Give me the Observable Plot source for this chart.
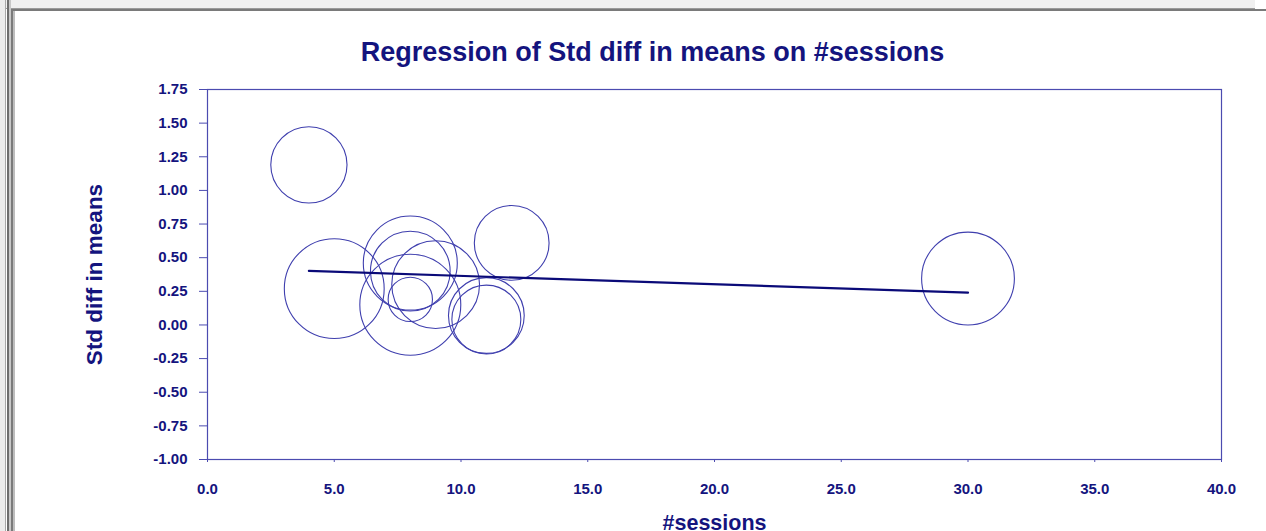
<!DOCTYPE html>
<html>
<head>
<meta charset="utf-8">
<script src="https://cdn.jsdelivr.net/npm/d3@7"></script>
<script src="https://cdn.jsdelivr.net/npm/@observablehq/plot@0.6"></script>
<style>
  html, body { margin: 0; padding: 0; background: #ffffff; }
  #wrap { position: relative; width: 1266px; height: 531px; overflow: hidden; background: #fff; }
  #chart { position: absolute; left: 0; top: 0; }
  .chrome { position: absolute; }
</style>
</head>
<body>
<div id="wrap">
  <div id="chart"></div>
  <!-- window frame around the chart panel -->
  <div class="chrome" style="left:0;top:0;width:1255px;height:8px;background:#f0f0f0;border-bottom:1px solid #9a9a9a;"></div>
  <div class="chrome" style="left:0;top:0;width:5px;height:531px;background:#ececec;"></div>
  <div class="chrome" style="left:5px;top:0;width:1px;height:531px;background:#a8a8a8;"></div>
  <div class="chrome" style="left:7px;top:0;width:2px;height:531px;background:#6e6e6e;"></div>
  <div class="chrome" style="left:9px;top:0;width:2px;height:531px;background:#c8c8c8;"></div>
  <div class="chrome" style="left:11px;top:9px;width:2px;height:522px;background:#7a7a7a;"></div>
  <div class="chrome" style="left:13px;top:9px;width:2px;height:522px;background:#bdbdbd;"></div>
  <div class="chrome" style="left:11px;top:9px;width:1255px;height:2px;background:#7a7a7a;"></div>
</div>
<script>
// Studies: number of sessions, standardized mean difference, relative weight (%)
const sessions = [4, 5, 8, 8, 8, 8, 9, 11, 11, 12, 30];
const stdDiff  = [1.19, 0.27, 0.15, 0.46, 0.40, 0.19, 0.30, 0.07, 0.04, 0.61, 0.345];
const weightPct = [7.7, 13.2, 13.5, 11.7, 8.4, 2.6, 10.2, 7.6, 6.3, 7.4, 11.4];

// Meta-regression fit: Std diff in means = intercept + slope * #sessions
const intercept = 0.427;
const slope = -0.00623;

const xTicks = [0, 5, 10, 15, 20, 25, 30, 35, 40];
const yTicks = [-1.00, -0.75, -0.50, -0.25, 0.00, 0.25, 0.50, 0.75, 1.00, 1.25, 1.50, 1.75];

const titleText = "Regression of Std diff in means on #sessions";
const xLabel = "#sessions";
const yLabel = "Std diff in means";

const studies = sessions.map((s, i) => ({sessions: s, diff: stdDiff[i], weight: weightPct[i]}));
const xMin = d3.min(sessions), xMax = d3.max(sessions);
const fit = [xMin, xMax].map(s => ({sessions: s, diff: intercept + slope * s}));

const navy = "#14147e";
const axisBlue = "#4b4bb0";
const circleBlue = "#3f3fae";
const font = "'Liberation Sans', Arial, Helvetica, sans-serif";

const chart = Plot.plot({
  width: 1266,
  height: 531,
  marginLeft: 207,
  marginRight: 45,
  marginTop: 89,
  marginBottom: 72,
  style: {fontFamily: font, fontWeight: "bold", background: "transparent", overflow: "visible"},
  x: {domain: [0, 40]},
  y: {domain: [-1, 1.75]},
  r: {type: "sqrt", domain: [0, 100], range: [0, 137.4]},
  marks: [
    Plot.frame({stroke: axisBlue, strokeWidth: 1.2}),
    Plot.axisX({
      ticks: xTicks, tickFormat: d => d.toFixed(1), tickSize: 3, tickPadding: 21,
      stroke: axisBlue, fill: navy, fontSize: 15, label: null
    }),
    Plot.axisY({
      ticks: yTicks, tickFormat: d => d.toFixed(2), tickSize: 8, tickPadding: 12,
      stroke: axisBlue, fill: navy, fontSize: 15, label: null
    }),
    Plot.dot(studies, {
      x: "sessions", y: "diff", r: "weight",
      stroke: circleBlue, strokeWidth: 1.1, fill: "none"
    }),
    Plot.line(fit, {x: "sessions", y: "diff", stroke: "#0a0a78", strokeWidth: 2.2}),
    Plot.text([titleText], {
      frameAnchor: "top", dx: -62, dy: -37, text: d => d,
      fontSize: 27, fill: navy, fontWeight: "bold", lineAnchor: "middle"
    }),
    Plot.text([yLabel], {
      frameAnchor: "left", dx: -113, rotate: -90, text: d => d,
      fontSize: 22.5, fill: navy, fontWeight: "bold", lineAnchor: "middle", textAnchor: "middle"
    }),
    Plot.text([xLabel], {
      frameAnchor: "bottom", dy: 64, text: d => d,
      fontSize: 21.5, fill: navy, fontWeight: "bold", lineAnchor: "middle"
    })
  ]
});

document.getElementById("chart").appendChild(chart);
</script>
</body>
</html>
